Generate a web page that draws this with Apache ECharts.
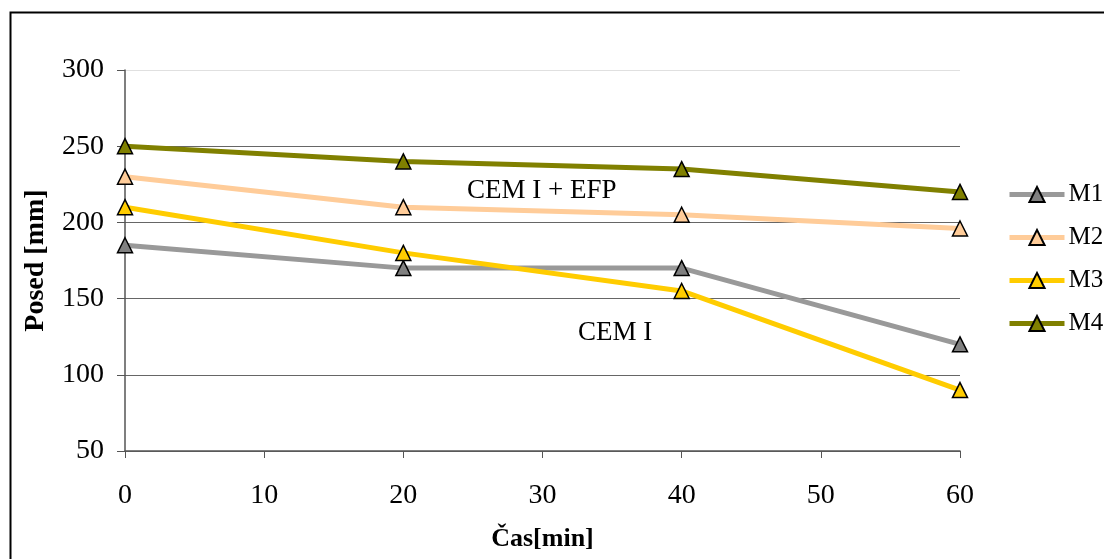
<!DOCTYPE html>
<html><head><meta charset="utf-8">
<script src="https://cdn.jsdelivr.net/npm/echarts@6/dist/echarts.min.js"></script>
<style>html,body{margin:0;padding:0;background:#fff}#c{width:1104px;height:559px}</style>
</head><body><div id="c"></div>
<script>
const xValues = [0, 20, 40, 60];
const seriesNames = ['M1', 'M2', 'M3', 'M4'];
const M1 = [185, 170, 170, 120];
const M2 = [230, 210, 205, 196];
const M3 = [210, 180, 155, 90];
const M4 = [250, 240, 235, 220];
const values = [M1, M2, M3, M4];
const lineColors = ['#999999', '#FFCC99', '#FFCC00', '#808000'];
const markerColors = ['#808080', '#FFCC99', '#FFCC00', '#808000'];
const font = 'Liberation Serif';

const chart = echarts.init(document.getElementById('c'));
chart.setOption({
  animation: false,
  backgroundColor: '#fff',
  grid: { left: 125, right: 144, top: 70, bottom: 108 },
  xAxis: {
    type: 'value', min: 0, max: 60, interval: 10,
    name: 'Čas[min]', nameLocation: 'middle', nameGap: 75,
    nameTextStyle: { fontFamily: font, fontSize: 26, fontWeight: 'bold', color: '#000' },
    axisLine: { show: true, onZero: false, lineStyle: { color: '#555', width: 1.5 } },
    axisTick: { show: true, length: 7, lineStyle: { color: '#555' } },
    axisLabel: { fontFamily: font, fontSize: 28, color: '#000', margin: 31 },
    splitLine: { show: false }
  },
  yAxis: {
    type: 'value', min: 50, max: 300, interval: 50,
    name: 'Posed [mm]', nameLocation: 'middle', nameGap: 75,
    nameTextStyle: { fontFamily: font, fontSize: 28, fontWeight: 'bold', color: '#000' },
    axisLine: { show: true, lineStyle: { color: '#555', width: 1.5 } },
    axisTick: { show: true, length: 8, lineStyle: { color: '#555' } },
    axisLabel: { fontFamily: font, fontSize: 28, color: '#000', margin: 21 },
    splitLine: { show: true, lineStyle: { color: ['#666', '#666', '#666', '#666', '#666', '#e0e0e0'], width: 1.2 } }
  },
  legend: {
    orient: 'vertical', left: 1002, top: 177, itemGap: 18,
    itemWidth: 55, itemHeight: 19,
    textStyle: { fontFamily: font, fontSize: 25, color: '#000', padding: [0, 0, 0, -1] },
    data: seriesNames.map(n => ({ name: n, lineStyle: { width: 5 } }))
  },
  graphic: [
    { type: 'rect', left: 8, top: 10, shape: { width: 1200, height: 700 }, style: { fill: 'none', stroke: '#000', lineWidth: 2 }, silent: true },
    { type: 'text', left: 467, top: 177, style: { text: 'CEM I + EFP', font: '27px "Liberation Serif"', fill: '#000' } },
    { type: 'text', left: 578, top: 319, style: { text: 'CEM I', font: '27px "Liberation Serif"', fill: '#000' } }
  ],
  series: seriesNames.map((n, i) => ({
    name: n, type: 'line',
    data: xValues.map((x, j) => [x, values[i][j]]),
    symbol: 'triangle', symbolSize: 15,
    lineStyle: { color: lineColors[i], width: 5 },
    itemStyle: { color: markerColors[i], borderColor: '#000', borderWidth: 1.5 },
    z: 2 + i
  }))
});
</script></body></html>
